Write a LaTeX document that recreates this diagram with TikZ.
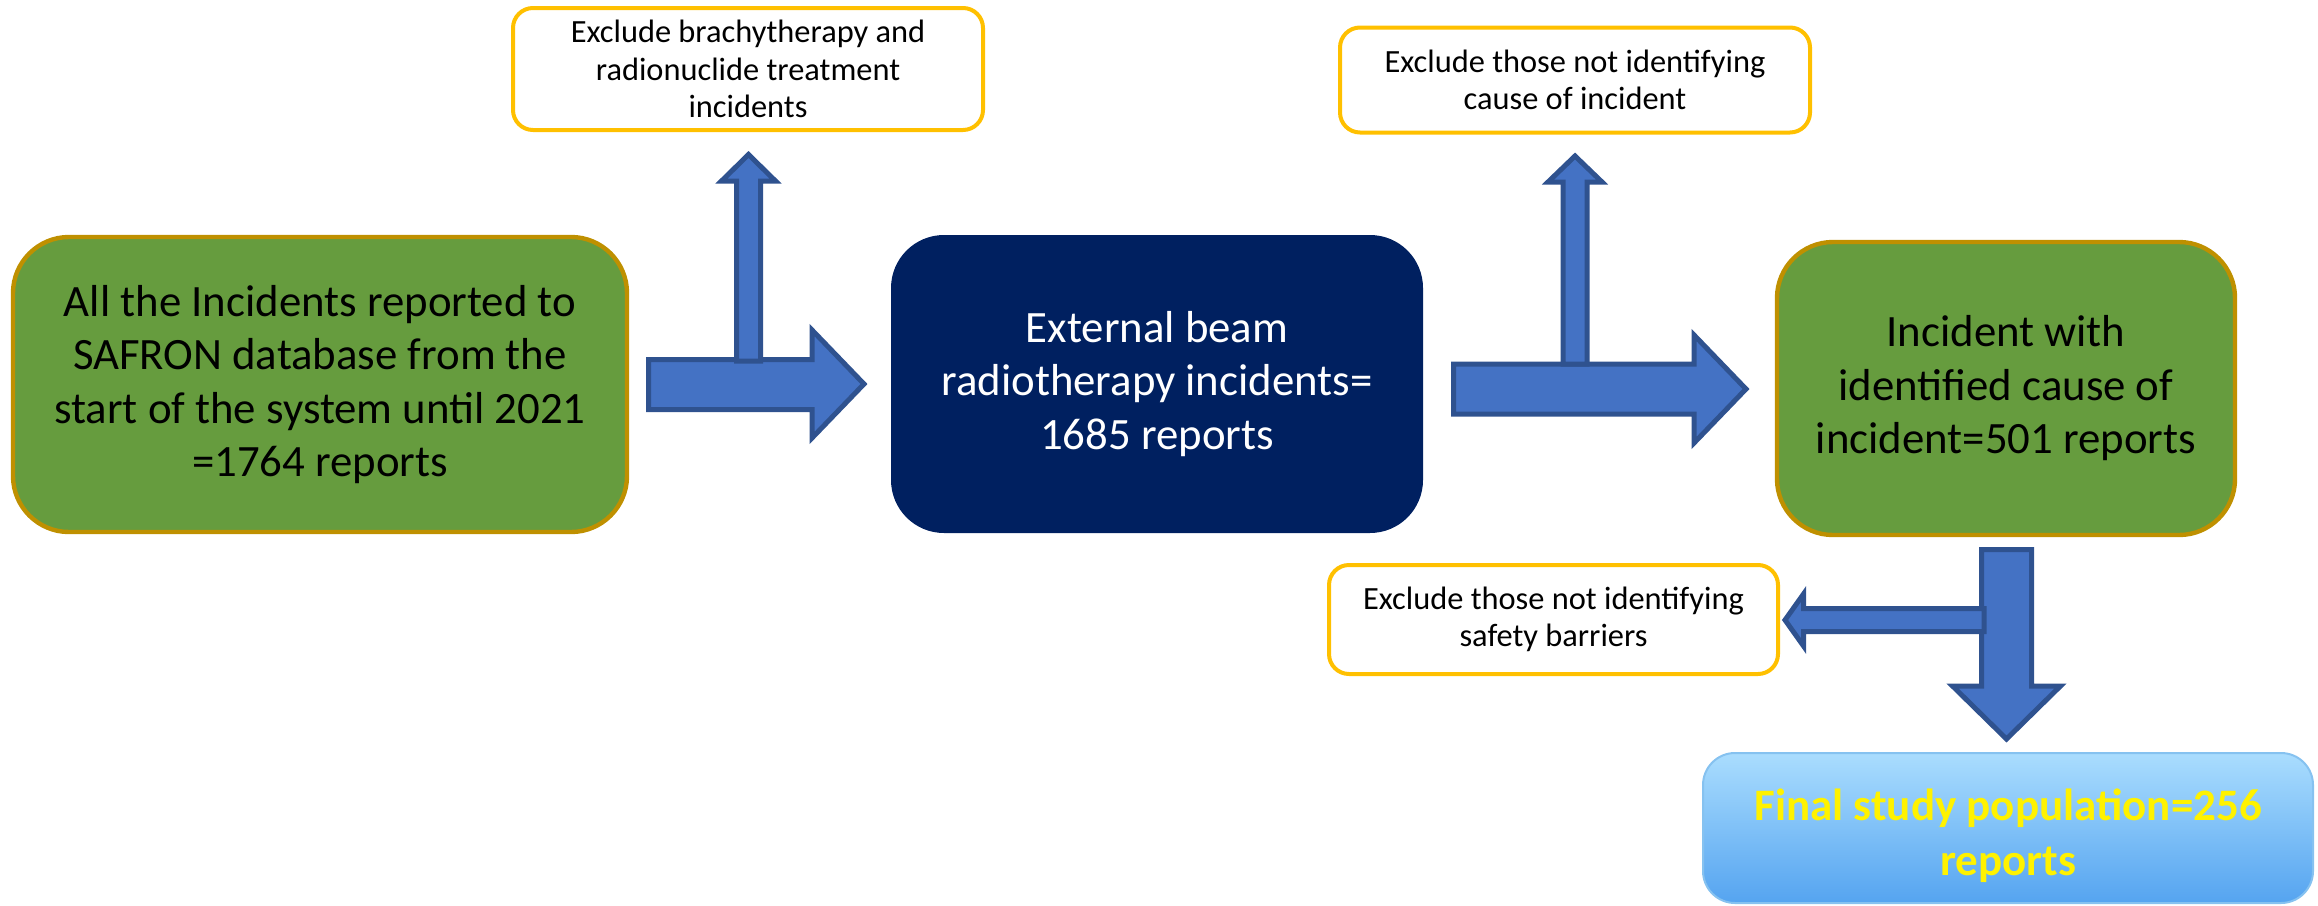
\documentclass[tikz,border=0pt]{standalone}
\usepackage{fontspec}
\setmainfont{Carlito}
\usetikzlibrary{shadings}

\definecolor{boxgreen}{HTML}{669C3E}
\definecolor{goldline}{HTML}{BF9000}
\definecolor{navyfill}{HTML}{002060}
\definecolor{exclline}{HTML}{FFC000}
\definecolor{arrowfill}{HTML}{4472C4}
\definecolor{arrowline}{HTML}{2F528F}
\definecolor{finaltop}{HTML}{AADDFE}
\definecolor{finalbottom}{HTML}{55A4F0}
\definecolor{finalline}{HTML}{86C2F0}

\tikzset{
  mainbox/.style={rectangle, align=center, inner sep=0pt,
    font=\fontsize{22.4}{26.75}\selectfont},
  greenbox/.style={mainbox, fill=boxgreen, draw=goldline, line width=2.2pt,
    rounded corners=28pt},
  navybox/.style={mainbox, fill=navyfill, draw=navyfill, line width=1pt,
    rounded corners=26pt, text=white},
  exclbox/.style={rectangle, align=center, inner sep=0pt, fill=white,
    draw=exclline, line width=2pt, rounded corners=10pt,
    font=\fontsize{16.2}{18.75}\selectfont},
  finalbox/.style={rectangle, align=center, inner sep=0pt,
    top color=finaltop, bottom color=finalbottom, draw=finalline,
    line width=1pt, rounded corners=16pt},
  finallabel/.style={text=yellow, align=center, inner sep=0pt,
    font=\fontsize{22.5}{27.5}\selectfont\bfseries},
  blockarrow/.style={fill=arrowfill, draw=arrowline, line width=2.5pt,
    line join=miter}
}

\begin{document}
\begin{tikzpicture}[x=0.5pt,y=-0.5pt]
\useasboundingbox (0,0) rectangle (2318,905);

% main flow boxes
\node[greenbox, minimum width=307pt, minimum height=147.5pt] (all) at (320,384.5)
  {All the Incidents reported to\\SAFRON database from the\\start of the system until 2021\\=1764 reports};
\node[navybox, minimum width=265pt, minimum height=148pt] (ebrt) at (1157,384)
  {External beam\\radiotherapy incidents=\\1685 reports};
\node[greenbox, minimum width=229pt, minimum height=146.5pt] (cause) at (2006,388.5)
  {Incident with\\identified cause of\\incident=501 reports};

% exclusion boxes
\node[exclbox, minimum width=235pt, minimum height=61pt] (ex1) at (748,69)
  {Exclude brachytherapy and\\radionuclide treatment\\incidents};
\node[exclbox, minimum width=235pt, minimum height=52.5pt] (ex2) at (1575,80)
  {Exclude those not identifying\\cause of incident};
\node[exclbox, minimum width=224.5pt, minimum height=54.5pt] (ex3) at (1553.5,619.5)
  {Exclude those not identifying\\safety barriers};

% final result
\node[finalbox, minimum width=305pt, minimum height=75pt] (final) at (2008,828) {};
\node[finallabel] (finaltext) at (2008,836) {Final study population=256\\reports};

% block arrow: all incidents -> external beam, branch up to first exclusion
\draw[blockarrow] (648.5,359.5) -- (812,359.5) -- (812,330) -- (864,384) --
  (812,438) -- (812,409.5) -- (648.5,409.5) -- cycle;
\draw[blockarrow] (736.5,361) -- (736.5,181) -- (721.5,181) -- (748.5,154.5) --
  (775.5,181) -- (760.5,181) -- (760.5,361) -- cycle;

% block arrow: external beam -> identified cause, branch up to second exclusion
\draw[blockarrow] (1453.5,364) -- (1694,364) -- (1694,335) -- (1746,389) --
  (1694,443) -- (1694,414) -- (1453.5,414) -- cycle;
\draw[blockarrow] (1563,364) -- (1563,182) -- (1548,182) -- (1575,156) --
  (1602,182) -- (1587,182) -- (1587,364) -- cycle;

% block arrow: identified cause -> final, branch left to third exclusion
\draw[blockarrow] (1981.5,549.5) -- (2031.5,549.5) -- (2031.5,686) -- (2060.5,686) --
  (2006.5,739) -- (1952.5,686) -- (1981.5,686) -- cycle;
\draw[blockarrow] (1984,608.5) -- (1803.5,608.5) -- (1803.5,594) -- (1785,620) --
  (1803.5,646) -- (1803.5,631.5) -- (1984,631.5) -- cycle;
\end{tikzpicture}
\end{document}
